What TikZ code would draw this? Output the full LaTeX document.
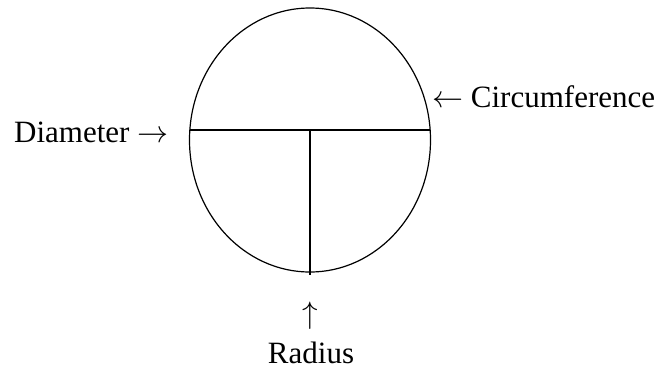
\RequirePackage{fix-cm}
\documentclass[tikz,border=0pt]{standalone}
\usepackage{fontspec}
\setmainfont{Liberation Serif}
\usetikzlibrary{positioning,shapes.geometric}
\tikzset{
  lbl/.style={inner sep=0pt,font=\fontsize{31}{37}\selectfont},
  lnw/.style={line width=1.2pt}
}
\begin{document}
\begin{tikzpicture}[x=1pt,y=-1pt]%
\useasboundingbox (0,0) rectangle (662,370);
% outline of the circle
\node[lnw,draw,ellipse,inner sep=0pt,minimum width=241,minimum height=264] (circ) at (310,140) {};
\coordinate (dl) at (190,130);
\coordinate (dr) at (430,130);
\coordinate (ctr) at (310,130);
\coordinate (bot) at (310,275);
\draw[lnw] (dl) -- (dr);
\draw[lnw] (ctr) -- (bot);
% labels
\node[lbl,anchor=base west] (dia) at (14,142) {Diameter $\rightarrow$};
\node[lbl,anchor=base west] (cir) at (432,107) {$\leftarrow$ Circumference};
\node[lbl,anchor=base] (rad) at (311,363) {Radius};
\node[lbl,anchor=base] (up) at (310,323) {$\uparrow$};
\end{tikzpicture}
\end{document}
